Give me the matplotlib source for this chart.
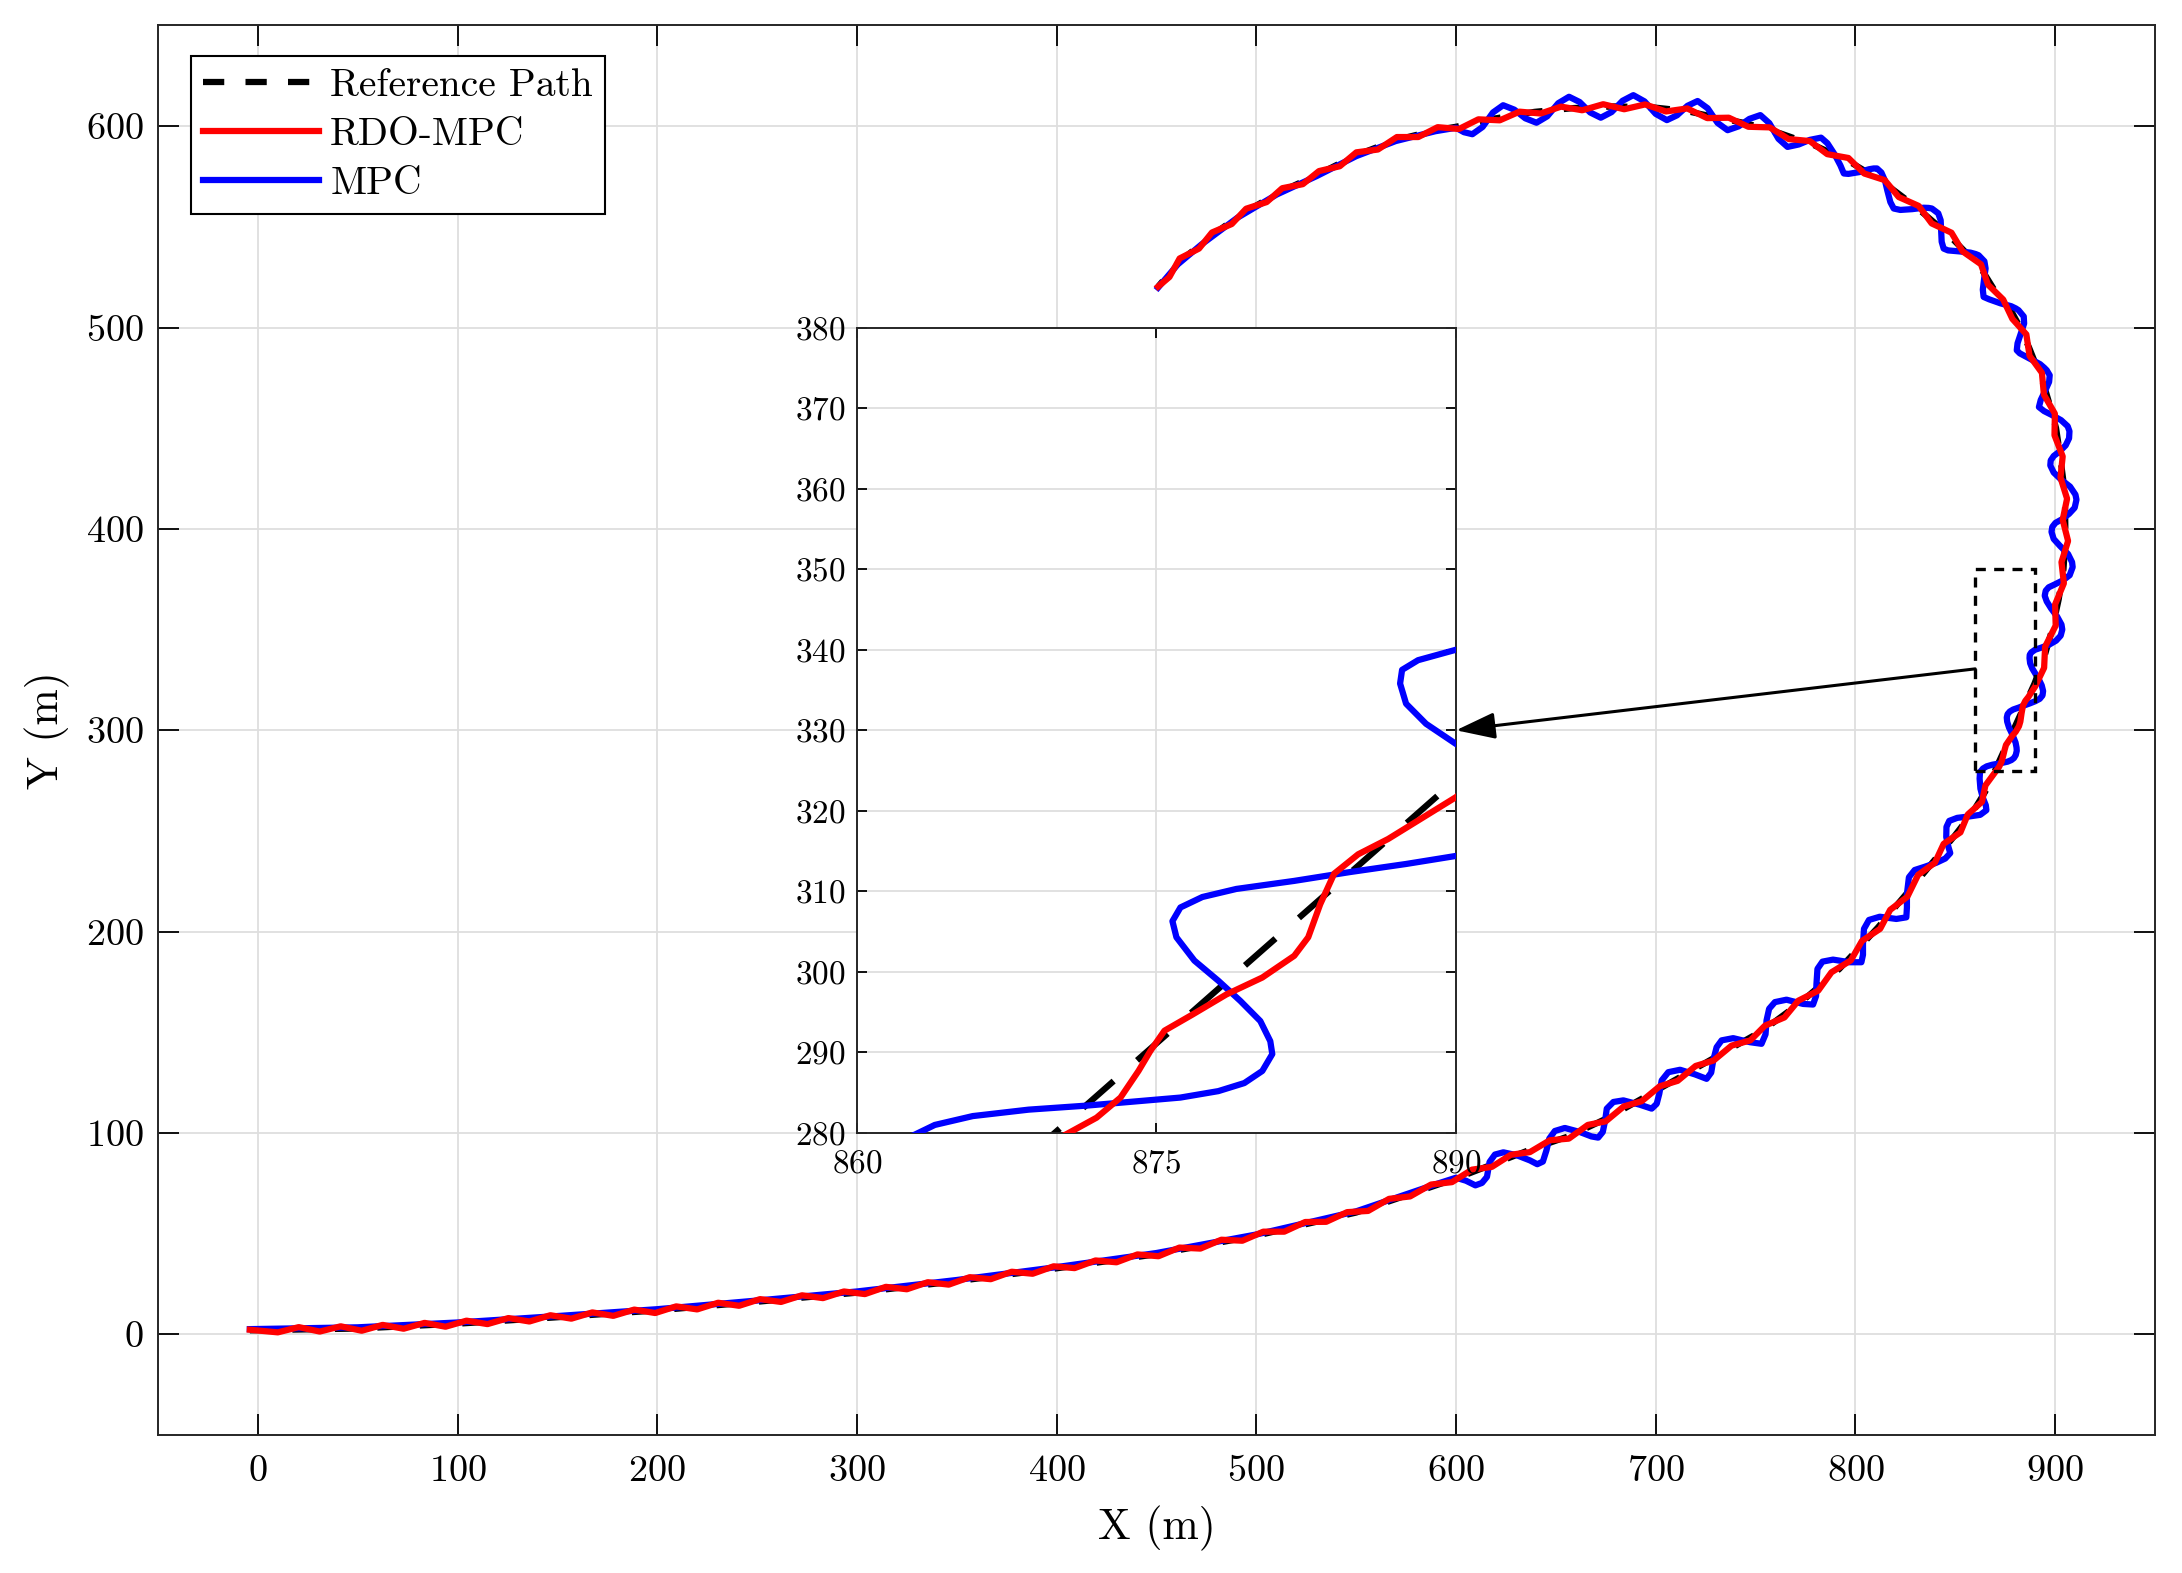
import matplotlib
matplotlib.use('Agg')
import matplotlib.pyplot as plt
from matplotlib.patches import Rectangle

# Computer Modern look (MATLAB / LaTeX style figure)
plt.rcParams['font.family'] = 'serif'
plt.rcParams['font.serif'] = ['cmr10']
plt.rcParams['mathtext.fontset'] = 'cm'
plt.rcParams['axes.formatter.use_mathtext'] = True
plt.rcParams['axes.unicode_minus'] = False

# Reference path (m)
ref_x = [-4, 50, 100, 150, 200, 250, 300, 350, 400, 450, 500, 550, 600,
         619.2, 638.4, 657.6, 676.8, 696, 715.2, 734.4, 753.6, 772.8, 792, 811.2, 830,
         840, 850, 858.5, 865, 869.9, 889.6, 894.2, 898.5, 901.8, 904.2, 905.2, 905,
         904, 902, 900.5, 897.8, 894.5, 891, 887, 882.5, 878.7, 870, 862.5, 846,
         829.2, 812.5, 795.8, 779.2, 762.5, 745.8, 729.2, 715, 698, 679, 659, 639.3,
         619.4, 600, 589.7, 569.8, 550, 530.2, 510.3, 490.5, 472.6, 460.7, 450.8]
ref_y = [2.0, 2.9, 5.3, 8.5, 11.9, 16.2, 20.7, 26.4, 32.8, 39.8, 49.0, 60.5, 77.4,
         84.8, 92.2, 98.8, 107.9, 118.7, 129.4, 140.2, 150.9, 165.0, 181.5, 202.0, 224,
         236, 248, 259, 269.5, 280, 323, 335, 350, 365, 380, 395, 410,
         425, 440, 450, 460, 471, 480, 490, 500, 507, 518, 530, 546.7,
         560.8, 573.2, 583.1, 590.6, 596.4, 601.3, 604.6, 607.6, 609.4, 609.8, 609, 607.1,
         603.8, 599.7, 598, 593.1, 585.6, 575.7, 566.6, 555, 541.8, 531.9, 520.3]

# RDO-MPC trajectory, by stretch of the path
rdo_low_x = [-4, 10, 20.5, 31, 41.5, 52, 62.5, 73, 83.5, 94, 104.5, 115, 125.5, 136, 146.5,
             157, 167.5, 178, 188.5, 199, 209.5, 220, 230.5, 241, 251.5, 262, 272.5, 283,
             293.5, 304, 314.5, 325, 335.5, 346, 356.5, 367, 377.5, 388, 398.5, 409, 419.5,
             430, 440.5, 451, 461.5, 472, 482.5, 493, 503.5, 514, 524.5, 535, 545.5, 556,
             566.5, 577, 587.5, 598]
rdo_low_y = [2.3, 1.0, 3.6, 1.4, 4.0, 1.8, 4.7, 2.8, 5.7, 3.8, 6.8, 5.1, 8.1, 6.4, 9.5,
             7.8, 10.9, 9.2, 12.3, 10.6, 13.9, 12.4, 15.7, 14.2, 17.5, 16.1, 19.4, 18.0,
             21.3, 20.0, 23.6, 22.4, 25.9, 24.7, 28.4, 27.4, 31.1, 30.1, 33.8, 32.9, 36.7,
             35.8, 39.7, 38.8, 43.1, 42.6, 47.0, 46.5, 51.0, 51.0, 55.8, 55.9, 60.7, 61.3,
             67.3, 68.5, 74.4, 75.6]
rdo_turn_x = [608, 618, 627.5, 637, 647, 656.5, 666, 675, 684, 693, 702, 711, 720, 729, 738,
              747.4, 754.7, 764.5, 771.4, 781.4, 788, 797.7, 803.3, 812.4, 817.4, 826, 831.4,
              839.8, 844.2, 852.6, 856.3, 863.4, 865.1]
rdo_turn_y = [81.8, 83.2, 89.2, 90.5, 96.4, 97.2, 104.0, 105.8, 113.2, 115.8, 123.2, 125.9,
              133.3, 136.0, 143.4, 146.0, 153.3, 157.4, 165.7, 170.7, 179.8, 185.7, 195.4,
              201.4, 210.8, 217.3, 228.2, 234.2, 243.6, 249.3, 258.2, 264.5, 272.6]
rdo_zoom_x = [868.8, 870.6, 872.0, 873.2, 874.1, 874.7, 875.4, 876.8, 878.5, 880.3, 881.9,
              882.6, 883.2, 883.9, 885.1, 886.6, 888.1, 890]
rdo_zoom_y = [277.6, 280, 281.9, 284.4, 287.7, 290.2, 292.7, 294.7, 297.2, 299.3, 302.0,
              304.3, 308.4, 312.2, 314.6, 316.5, 318.8, 321.7]
rdo_right_x = [891.6, 894.5, 895, 900.3, 900, 904.4, 903.2, 906.5, 903.8, 906, 902.7, 903.8,
               899.7, 899.9, 894.4, 893.4, 887.2, 885.6, 878.6,
               874, 866.4, 862.9, 853.7, 848.1, 838.2, 831.7, 821.7, 814.7, 804.4, 796.5, 785.9]
rdo_right_y = [325, 331, 341.5, 352, 362.5, 373, 383.5, 394, 404.5, 415, 425.5, 436,
               446.5, 457.2, 466.7, 477.5, 486, 496.6, 504.3,
               513.9, 521.3, 531.4, 537.8, 547.1, 551.7, 560.4, 564.8, 573.2, 576.5, 584.2, 586.1]
rdo_top_x = [777.2, 766.6, 757.1, 746.4, 736.6, 725.8, 715.8, 705.1, 694.7, 684.2, 673.7,
             663.2, 652.6, 642.4, 631.8, 621.9, 611.2, 601.5,
             590.8, 581.1, 570.4, 560.9, 550.1, 541.8, 531.4, 523.3, 513, 505.2, 494.9, 487.7,
             477.8, 471.3, 461.6, 456.5, 450.8]
rdo_top_y = [592.6, 593.6, 599.4, 599.7, 604.2, 604.0, 608.8, 607.3, 610.8, 608.4, 610.9,
             607.9, 609.7, 606.3, 607.2, 602.9, 603.4, 598.6,
             599.5, 594.6, 594.6, 588.4, 587.0, 580.1, 577.7, 571.2, 569.2, 562.3, 559.0, 551.4,
             547.2, 539.2, 534.3, 525.1, 520.3]

# MPC trajectory, by stretch of the path
mpc_low_x = [-4, 50, 100, 150, 200, 250, 300, 350, 400, 450, 500, 550, 590, 600]
mpc_low_y = [2.6, 3.5, 5.9, 9.1, 12.5, 16.8, 21.3, 27.0, 33.4, 40.4, 49.6, 61.1, 74.6, 77.8]
mpc_stair_x = [605, 609.7, 613, 615.5, 616.8, 619.5, 623.7, 630.3, 637, 640.7,
               643.5, 645.3, 646.7, 649.5, 654.5, 662, 667.8, 671.2,
               673.5, 674.7, 675.5, 678.8, 683.8, 692.2, 698,
               700.5, 701.8, 703, 706.3, 712.2, 719.7, 725.5,
               727.8, 728.8, 730.5, 733, 738.8, 747.2, 753,
               755, 755.5, 756.8, 759.7, 765.5, 773.8, 778.8,
               780.3, 780.5, 781, 783.5, 788.8, 797.2, 803,
               803.8, 803.8, 804.3, 806.8, 812.2, 820.5, 825.5,
               825.8, 825.8, 826.8, 829.7, 834.7, 840.5, 845, 847.5,
               846.6, 845.5, 845.6, 847, 851, 857, 862.5, 865.6,
               865.3, 863.8, 862.6, 862.2, 862.4]
mpc_stair_y = [76.3, 74.0, 75.2, 78.2, 85.6, 89.3, 90.4, 89.0, 86.4, 84.5,
               85.8, 91.4, 97.2, 101.0, 102.5, 100.5, 98.3, 97.7,
               100.5, 106.3, 112.1, 115.4, 116.2, 114.0, 112.1,
               114.5, 119.5, 126.1, 130.2, 131.4, 129.1, 126.9,
               130, 136.0, 142.6, 146.0, 147.1, 145.1, 144.3,
               149, 155.9, 161.7, 165.0, 166.2, 164.1, 163.8,
               168, 174.0, 181.5, 185.1, 186.1, 184.8, 184.8,
               188.5, 193.9, 201.4, 205.8, 207.4, 206.3, 207.1,
               212, 218.7, 227.0, 230.6, 232.2, 234.2, 236.3, 239.0,
               242, 247, 252, 255, 256.5, 257.2, 258, 260.3,
               262.8, 266.5, 271, 276, 279.2]
mpc_zoom_x = [863.9, 865.8, 868.6, 871.5, 874.3, 876.2, 878.1, 879.4, 880.3, 880.8,
              880.7, 880.2, 879.2, 878.1, 876.9, 876.0, 875.8, 876.2, 877.3, 879.0,
              881.9, 884.7, 887.5, 890, 892.3, 893.7, 894.0, 893.3, 892, 890,
              888.5, 887.5, 887.2, 887.3, 888.1, 890]
mpc_zoom_y = [281.0, 282.1, 282.9, 283.4, 284.0, 284.4, 285.2, 286.2, 287.7, 289.8,
              291.4, 293.9, 296.4, 298.9, 301.4, 304.3, 306.3, 308.0, 309.3, 310.3,
              311.3, 312.4, 313.4, 314.4, 315.6, 317.3, 319.5, 322.3, 325, 328.3,
              330.8, 333.3, 335.8, 337.5, 338.7, 340.0]
mpc_right_x = [893, 897, 900.5, 902.8, 903.6, 903.2, 901, 898, 895.8, 894.8,
               895.3, 896.8, 900, 904, 907.3, 908.8, 908.5, 906.5, 902.5, 899.3,
               898.2, 898.6, 900.2, 903.5, 907, 909.8, 910.7, 910.2, 907.5, 903,
               899.3, 897.6, 897.8, 899.3, 902.3, 905.3, 907, 907.2, 906.3, 903,
               898.5, 894.5, 891.9, 892.8, 895.2, 897, 897.3, 895.8, 894.6, 892.5,
               887.4, 882.3, 880.8, 881.2, 883, 884.5, 884.3, 881.7, 880.3, 878,
               872.7, 867, 864.2, 863.8, 864.5, 865.2, 864.6, 861.7, 860.2, 857.6,
               852.2, 846.4, 844.2, 843.2, 842.9, 842.7, 841.5, 838.3, 836.7, 834.2,
               828.5, 822.5, 819.2, 817.5, 816, 814.8, 813, 810.8, 809.2, 806.8,
               802, 796.5, 794.2, 792.5, 789.6, 786, 782.8]
mpc_right_y = [341, 342.5, 344.5, 347, 350, 352.5, 356.5, 360.5, 364, 366.8,
               369.3, 371, 372.5, 374.5, 377, 381, 383.5, 387.5, 391.5, 395,
               398.5, 401, 403, 404.8, 407.5, 410.5, 414.5, 417, 421, 424.5,
               428, 431.5, 434, 436.2, 438.5, 441.5, 445, 448.5, 451, 454,
               456.5, 458.5, 460.5, 464, 469, 473, 476.3, 478.8, 480, 481.8,
               484.5, 487.2, 488.7, 492.2, 497.5, 502, 505.5, 508.6, 509.5, 510.6,
               512, 514, 515.2, 518.8, 524.6, 529.3, 532.9, 535.9, 536.5, 537.2,
               537.8, 538.3, 539.2, 542.6, 548.5, 553.3, 556.7, 559.1, 559.4, 559.5,
               558.8, 558.4, 559.1, 562.3, 568, 573, 577, 579, 579, 578.6,
               577.2, 576.3, 576.5, 580.5, 586, 591.5, 594.3]
mpc_top_x = [777.2, 771.6, 766, 761.5, 756.9, 752.4, 746.9, 741.5, 736, 731,
             726, 721, 715.9, 710.7, 705.6, 700, 694.4, 688.8, 683.4, 677.9,
             672.5, 667.2, 661.9, 656.6, 651.2, 645.7, 640.3, 634.7, 629.2, 623.6,
             618.5, 613.3, 608.2, 604, 600,
             589.7, 569.8, 550, 530.2, 510.3, 490.5, 472.6, 460.7, 450.8]
mpc_top_y = [593.2, 590.9, 589.7, 593.7, 601.5, 605.5, 603.6, 599.9, 598, 601.6,
             608.9, 612.5, 610.1, 605.4, 603, 606.1, 612.3, 615.4, 612.6, 607,
             604.2, 606.8, 612, 614.6, 611.4, 604.9, 601.7, 603.9, 608.2, 610.4,
             606.8, 599.6, 596, 597, 599.2,
             597.5, 592.6, 585.1, 575.2, 566.1, 554.5, 541.3, 531.4, 519.8]

rdo_x = rdo_low_x + rdo_turn_x + rdo_zoom_x + rdo_right_x + rdo_top_x
rdo_y = rdo_low_y + rdo_turn_y + rdo_zoom_y + rdo_right_y + rdo_top_y
mpc_x = mpc_low_x + mpc_stair_x + mpc_zoom_x + mpc_right_x + mpc_top_x
mpc_y = mpc_low_y + mpc_stair_y + mpc_zoom_y + mpc_right_y + mpc_top_y

x_ticks = [0, 100, 200, 300, 400, 500, 600, 700, 800, 900]
y_ticks = [0, 100, 200, 300, 400, 500, 600]
zoom_x_ticks = [860, 875, 890]
zoom_y_ticks = [280, 290, 300, 310, 320, 330, 340, 350, 360, 370, 380]

LW = 4.5
GRID_C = '#dedede'

fig = plt.figure(figsize=(21.82, 15.73), dpi=100)
ax = fig.add_axes([0.0724, 0.0877, 0.9152, 0.8961])

# Main trajectories
l_ref, = ax.plot(ref_x, ref_y, color='k', lw=LW, ls=(0, (3.4, 3.4)), zorder=2)
l_mpc, = ax.plot(mpc_x, mpc_y, color='b', lw=LW, zorder=3, solid_joinstyle='round')
l_rdo, = ax.plot(rdo_x, rdo_y, color='r', lw=LW, zorder=4, solid_joinstyle='round')

ax.set_xlim(-50, 950)
ax.set_ylim(-50, 650)
ax.set_xticks(x_ticks)
ax.set_yticks(y_ticks)
ax.grid(True, color=GRID_C, lw=1.3)
ax.set_axisbelow(True)
ax.tick_params(direction='in', length=15, width=1.3, top=True, right=True, labelsize=27.5)
ax.tick_params(axis='x', pad=14)
ax.tick_params(axis='y', pad=10)
for s in ax.spines.values():
    s.set_linewidth(1.4)
    s.set_color('#262626')

ax.set_xlabel('X (m)', fontsize=31.5, labelpad=13)
ax.set_ylabel('Y (m)', fontsize=31.5, labelpad=12)

# Zoom box and arrow to the inset
ax.add_patch(Rectangle((860, 280), 30, 100, fill=False, ec='k', lw=2.4,
                       ls=(0, (3, 2.5)), zorder=5))
ax.annotate('', xy=(600, 300), xytext=(860, 330.5),
            arrowprops=dict(arrowstyle='-|>,head_length=0.8,head_width=0.27',
                            color='k', lw=2.2, mutation_scale=30,
                            shrinkA=0, shrinkB=0), zorder=6)

# Inset with the zoomed region
axin = ax.inset_axes([300, 100, 300, 400], transform=ax.transData)
axin.plot(ref_x, ref_y, color='k', lw=LW, ls=(0, (6.5, 5)), zorder=2)
axin.plot(mpc_x, mpc_y, color='b', lw=LW, zorder=3)
axin.plot(rdo_x, rdo_y, color='r', lw=LW, zorder=4)
axin.set_xlim(860, 890)
axin.set_ylim(280, 380)
axin.set_xticks(zoom_x_ticks)
axin.set_yticks(zoom_y_ticks)
axin.grid(True, color=GRID_C, lw=1.3)
axin.set_axisbelow(True)
axin.tick_params(direction='in', length=7, width=1.3, top=True, right=True, labelsize=24)
axin.tick_params(axis='x', pad=12)
axin.tick_params(axis='y', pad=8)
for s in axin.spines.values():
    s.set_linewidth(1.4)
    s.set_color('#262626')

leg = ax.legend(handles=[l_ref, l_rdo, l_mpc], labels=['Reference Path', 'RDO-MPC', 'MPC'],
                loc='upper left', bbox_to_anchor=(0.0165, 0.978), borderaxespad=0,
                fontsize=28.4, fancybox=False, edgecolor='k', framealpha=1,
                handlelength=2.95, handletextpad=0.28, borderpad=0.3, labelspacing=0.33)
leg.get_frame().set_linewidth(1.5)

fig.savefig('out.png', dpi=100)
